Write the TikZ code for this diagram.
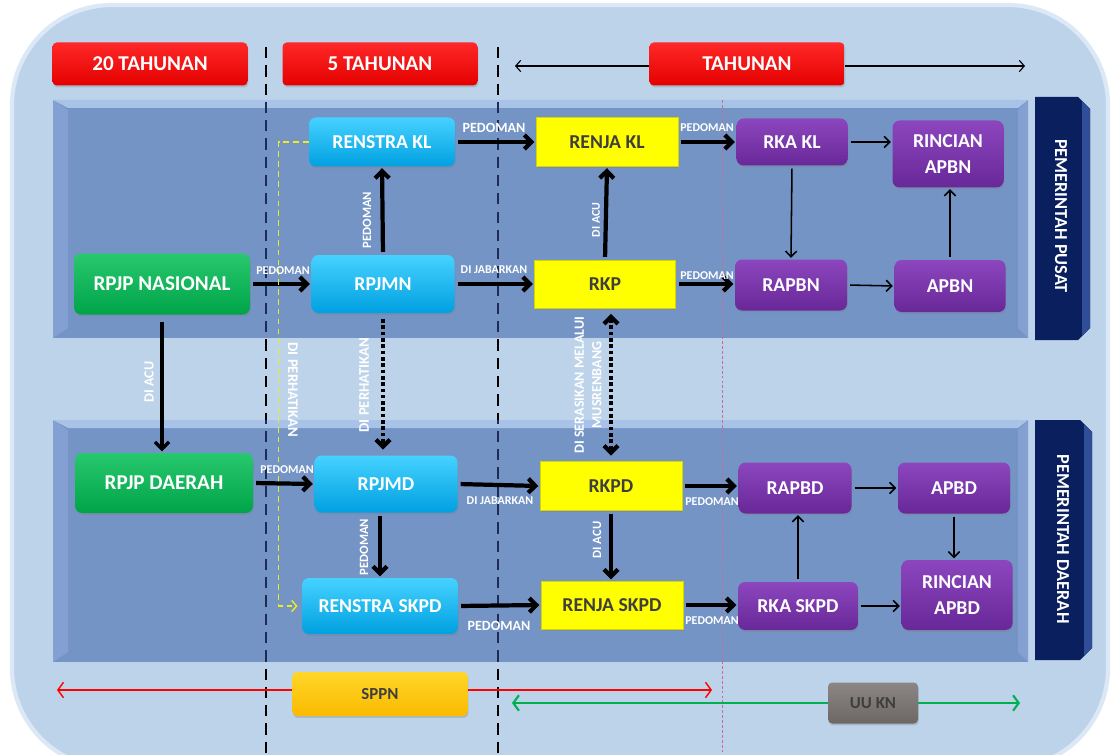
\documentclass[tikz,border=0pt]{standalone}
\usepackage{fontspec}
\setmainfont{Carlito}
\usetikzlibrary{arrows.meta,shadows}

\definecolor{skyback}{RGB}{189,211,234}
\definecolor{skyedge}{RGB}{220,232,245}
\definecolor{bandblue}{RGB}{116,148,198}
\definecolor{bandtop}{RGB}{168,194,232}
\definecolor{bandside}{RGB}{132,160,210}
\definecolor{navytab}{RGB}{10,32,94}
\definecolor{navyedge}{RGB}{48,78,152}
\definecolor{dashnavy}{RGB}{30,44,84}
\definecolor{greentop}{RGB}{40,200,110}
\definecolor{greenbot}{RGB}{0,164,72}
\definecolor{cyantop}{RGB}{70,210,255}
\definecolor{cyanbot}{RGB}{0,160,225}
\definecolor{purptop}{RGB}{140,70,190}
\definecolor{purpbot}{RGB}{104,40,152}
\definecolor{yellfill}{RGB}{255,255,0}
\definecolor{yelledge}{RGB}{212,212,0}
\definecolor{redtop}{RGB}{255,40,40}
\definecolor{redbot}{RGB}{228,0,0}
\definecolor{goldtop}{RGB}{255,214,40}
\definecolor{goldbot}{RGB}{250,186,0}
\definecolor{greytop}{RGB}{140,134,132}
\definecolor{greybot}{RGB}{108,102,100}
\definecolor{darktext}{RGB}{62,62,62}
\definecolor{arrowgreen}{RGB}{0,176,80}
\definecolor{pinkline}{RGB}{196,110,150}
\definecolor{yelldash}{RGB}{236,236,30}

\tikzset{
  wh/.style 2 args={minimum width=#1*0.025cm, minimum height=#2*0.025cm},
  planbox/.style={rounded corners=5pt, inner sep=0pt, align=center, text=white,
    font=\bfseries\fontsize{14}{18}\selectfont,
    drop shadow={shadow xshift=0.6pt, shadow yshift=-1.4pt, opacity=0.3}},
  greenbox/.style={planbox, top color=greentop, bottom color=greenbot,
    font=\bfseries\fontsize{15}{18}\selectfont},
  cyanbox/.style={planbox, top color=cyantop, bottom color=cyanbot},
  purplebox/.style={planbox, top color=purptop, bottom color=purpbot},
  yellowbox/.style={planbox, sharp corners, fill=yellfill, draw=yelledge, text=darktext},
  headbox/.style={planbox, rounded corners=3pt, top color=redtop, bottom color=redbot,
    font=\bfseries\fontsize{15}{17}\selectfont, wh={195}{43}},
  goldbox/.style={planbox, rounded corners=3pt, top color=goldtop, bottom color=goldbot,
    text=darktext, font=\bfseries\fontsize{12}{14}\selectfont},
  greybox/.style={planbox, rounded corners=3pt, top color=greytop, bottom color=greybot,
    text=darktext, font=\bfseries\fontsize{12}{14}\selectfont},
  tabtext/.style={text=white, rotate=-90, inner sep=0pt, font=\bfseries\fontsize{13}{15}\selectfont},
  lbl/.style={text=white, inner sep=0pt, align=center, font=\bfseries\fontsize{8.5}{10}\selectfont},
  lblbig/.style={lbl, font=\bfseries\fontsize{10}{12}\selectfont},
  bigarrow/.style={line width=3pt, shorten <=2pt, shorten >=1pt,
    -{Straight Barb[length=5pt,width=10pt]}},
  dotarrow/.style={bigarrow, shorten <=4pt, shorten >=4pt, dash pattern=on 2.6pt off 1.9pt},
  thinarrow/.style={line width=1.1pt, shorten <=2pt, shorten >=1pt,
    -{Straight Barb[length=4pt,width=8pt]}},
  divider/.style={line width=1.6pt, dash pattern=on 8pt off 5pt},
  spanline/.style={line width=1pt, -{Straight Barb[length=4pt,width=11pt]}}
}

\begin{document}
\begin{tikzpicture}[x=0.025cm, y=-0.025cm]
\useasboundingbox (0,0) rectangle (1111,755);
\clip (0,0) rectangle (1111,755);

% Drawing background panel
\fill[white] (0,0) rectangle (1111,755);%
\draw[skyedge, line width=3pt, fill=skyback, rounded corners=2.5cm] (12,5) rectangle (1108,768);%

% Drawing band pusat
\fill[bandblue] (53,100) rectangle (1028,338);%
\fill[bandside] (53,100) -- (68,110) -- (68,328) -- (53,338) -- cycle;%
\fill[bandside] (1028,100) -- (1018,110) -- (1018,328) -- (1028,338) -- cycle;%
\fill[bandtop] (53,100) -- (1028,100) -- (1018,108) -- (68,108) -- cycle;%

% Drawing band daerah
\fill[bandblue] (53,420) rectangle (1028,662);%
\fill[bandside] (53,420) -- (68,430) -- (68,652) -- (53,662) -- cycle;%
\fill[bandside] (1028,420) -- (1018,430) -- (1018,652) -- (1028,662) -- cycle;%
\fill[bandtop] (53,420) -- (1028,420) -- (1018,428) -- (68,428) -- cycle;%

% Drawing tabs
\fill[navytab] (1035,97) -- (1078,97) -- (1090,109) -- (1090,328) -- (1078,340) -- (1035,340) -- cycle;%
\fill[navyedge] (1082,101) -- (1090,109) -- (1090,328) -- (1082,336) -- cycle;%
\fill[navytab] (1035,420) -- (1080,420) -- (1092,432) -- (1092,648) -- (1080,660) -- (1035,660) -- cycle;%
\fill[navyedge] (1084,424) -- (1092,432) -- (1092,648) -- (1084,656) -- cycle;%
\node[tabtext] (tabpusat) at (1061,216) {PEMERINTAH PUSAT};%
\node[tabtext] (tabdaerah) at (1063,539) {PEMERINTAH DAERAH};%

% Drawing dividers
\draw[divider] (266,47) -- (266,755);%
\draw[divider] (498,47) -- (498,755);%
\begin{scope}
  \clip (53,100) rectangle (1028,338) (53,420) rectangle (1028,662);
  \draw[divider, dashnavy] (266,47) -- (266,755);%
  \draw[divider, dashnavy] (498,47) -- (498,755);%
\end{scope}
\draw[pinkline, line width=0.6pt, dash pattern=on 2pt off 1.5pt] (722,100) -- (722,755);%

% Marking headers
\node[headbox] (hd20) at (150,64) {20 TAHUNAN};%
\node[headbox] (hd5) at (380,64) {5 TAHUNAN};%
\node[headbox] (hdtahun) at (747,64) {TAHUNAN};%
\coordinate (tahunL) at (515,66);%
\coordinate (tahunR) at (1025,66);%
\draw[line width=0.8pt, -{Straight Barb[length=3.5pt,width=8pt]}] (hdtahun.west |- tahunL) -- (tahunL);%
\draw[line width=0.8pt, -{Straight Barb[length=3.5pt,width=8pt]}] (hdtahun.east |- tahunR) -- (tahunR);%

% Marking boxes pusat
\node[greenbox, wh={176}{61}] (rpjpnas) at (162,284) {RPJP NASIONAL};%
\node[cyanbox, wh={146}{49}] (renstrakl) at (382,142) {RENSTRA KL};%
\node[cyanbox, wh={143}{58}] (rpjmn) at (383,284) {RPJMN};%
\node[yellowbox, wh={142}{49}] (renjakl) at (607,142) {RENJA KL};%
\node[yellowbox, wh={141}{48}] (rkp) at (605,284) {RKP};%
\node[purplebox, wh={111}{47}] (rkakl) at (792,142) {RKA KL};%
\node[purplebox, wh={111}{67}] (rincianapbn) at (948,154) {RINCIAN\\APBN};%
\node[purplebox, wh={112}{51}] (rapbn) at (791,285) {RAPBN};%
\node[purplebox, wh={111}{52}] (apbn) at (950,286) {APBN};%

% Marking boxes daerah
\node[greenbox, wh={178}{60}] (rpjpdaerah) at (164,483) {RPJP DAERAH};%
\node[cyanbox, wh={143}{57}] (rpjmd) at (386,484) {RPJMD};%
\node[cyanbox, wh={156}{56}] (renstraskpd) at (380,606) {RENSTRA SKPD};%
\node[yellowbox, wh={142}{49}] (rkpd) at (611,486) {RKPD};%
\node[yellowbox, wh={142}{48}] (renjaskpd) at (612,605) {RENJA SKPD};%
\node[purplebox, wh={113}{51}] (rapbd) at (795,488) {RAPBD};%
\node[purplebox, wh={112}{51}] (apbd) at (954,488) {APBD};%
\node[purplebox, wh={120}{48}] (rkaskpd) at (798,606) {RKA SKPD};%
\node[purplebox, wh={111}{70}] (rincianapbd) at (957,595) {RINCIAN\\APBD};%

% Drawing flow pusat
\draw[bigarrow] (rpjpnas.east) -- (rpjmn.west);%
\draw[bigarrow] (rpjmn.north) -- (renstrakl.south);%
\draw[bigarrow] (renstrakl.east) -- (renjakl.west);%
\draw[bigarrow] (rpjmn.east) -- (rkp.west);%
\draw[bigarrow] (rkp.north) -- (renjakl.south);%
\draw[bigarrow] (renjakl.east) -- (rkakl.west);%
\draw[bigarrow] (rkp.east) -- (rkp.east -| rapbn.west);%
\draw[thinarrow] (rkakl.east) -- (rkakl.east -| rincianapbn.west);%
\draw[thinarrow] (rkakl.south) -- (rapbn.north);%
\draw[thinarrow] (rapbn.east) -- (apbn.west);%
\draw[thinarrow] (apbn.north) -- (apbn.north |- rincianapbn.south);%

% Drawing flow between bands
\draw[bigarrow, line width=2.3pt, shorten <=5pt] (rpjpnas.south) -- (rpjpnas.south |- rpjpdaerah.north);%
\draw[dotarrow] (rpjmn.south) -- (rpjmn.south |- rpjmd.north);%
\draw[dotarrow, {Straight Barb[length=5pt,width=10pt]}-{Straight Barb[length=5pt,width=10pt]}] (rkpd.north |- rkp.south) -- (rkpd.north);%
\draw[yelldash, line width=1pt, dash pattern=on 4pt off 3pt, shorten >=3pt,
  -{Straight Barb[length=3.5pt,width=8pt]}] (renstrakl.west) -- ++(-30,0) |- (renstraskpd.west);%

% Drawing flow daerah
\draw[bigarrow] (rpjpdaerah.east) -- (rpjmd.west);%
\draw[bigarrow] (rpjmd.east) -- (rkpd.west);%
\draw[bigarrow] (rpjmd.south -| renstraskpd.north) -- (renstraskpd.north);%
\draw[bigarrow] (rkpd.south) -- (rkpd.south |- renjaskpd.north);%
\draw[bigarrow] (renstraskpd.east) -- (renjaskpd.west);%
\draw[bigarrow] (rkpd.east) -- (rkpd.east -| rapbd.west);%
\draw[bigarrow] (renjaskpd.east) -- (renjaskpd.east -| rkaskpd.west);%
\draw[thinarrow] (rapbd.east) -- (apbd.west);%
\draw[thinarrow] (rkaskpd.north) -- (rkaskpd.north |- rapbd.south);%
\draw[thinarrow] (apbd.south) -- (apbd.south |- rincianapbd.north);%
\draw[thinarrow] (rkaskpd.east) -- (rkaskpd.east -| rincianapbd.west);%

% Marking labels pusat
\node[lbl] (l1) at (283,271) {PEDOMAN};%
\node[lbl, rotate=90, font=\bfseries\fontsize{9}{10}\selectfont] (l2) at (367,220) {PEDOMAN};%
\node[lblbig] (l3) at (494,128) {PEDOMAN};%
\node[lbl] (l4) at (494,270) {DI JABARKAN};%
\node[lbl, rotate=90] (l5) at (596,220) {DI ACU};%
\node[lbl] (l6) at (707,128) {PEDOMAN};%
\node[lbl] (l7) at (707,276) {PEDOMAN};%

% Marking labels between bands
\node[lblbig, rotate=90] (l8) at (149,382) {DI ACU};%
\node[lblbig, rotate=-90, font=\bfseries\fontsize{10.5}{12}\selectfont] (l9) at (293,390) {DI PERHATIKAN};%
\node[lblbig, rotate=90, font=\bfseries\fontsize{10.5}{12}\selectfont] (l10) at (364,385) {DI PERHATIKAN};%
\node[lblbig, rotate=90, font=\bfseries\fontsize{10}{12.5}\selectfont] (l11) at (588,385) {DI SERASIKAN MELALUI\\MUSRENBANG};%

% Marking labels daerah
\node[lbl] (l12) at (287,470) {PEDOMAN};%
\node[lbl] (l13) at (500,501) {DI JABARKAN};%
\node[lbl, rotate=90, font=\bfseries\fontsize{9}{10}\selectfont] (l14) at (364,547) {PEDOMAN};%
\node[lbl, rotate=90, font=\bfseries\fontsize{9}{10}\selectfont] (l15) at (597,540) {DI ACU};%
\node[lblbig] (l16) at (499,626) {PEDOMAN};%
\node[lbl] (l17) at (712,502) {PEDOMAN};%
\node[lbl] (l18) at (712,621) {PEDOMAN};%

% Drawing legal basis spans
\node[goldbox, wh={175}{44}] (sppn) at (380,694) {SPPN};%
\node[greybox, wh={90}{41}] (uukn) at (873,703) {UU KN};%
\coordinate (redL) at (57,690);%
\coordinate (redR) at (712,690);%
\coordinate (greenL) at (512,703);%
\coordinate (greenR) at (1020,703);%
\draw[spanline, red] (sppn.west |- redL) -- (redL);%
\draw[spanline, red] (sppn.east |- redR) -- (redR);%
\draw[spanline, arrowgreen, line width=1.5pt] (uukn.west |- greenL) -- (greenL);%
\draw[spanline, arrowgreen, line width=1.5pt] (uukn.east |- greenR) -- (greenR);%
\end{tikzpicture}
\end{document}
